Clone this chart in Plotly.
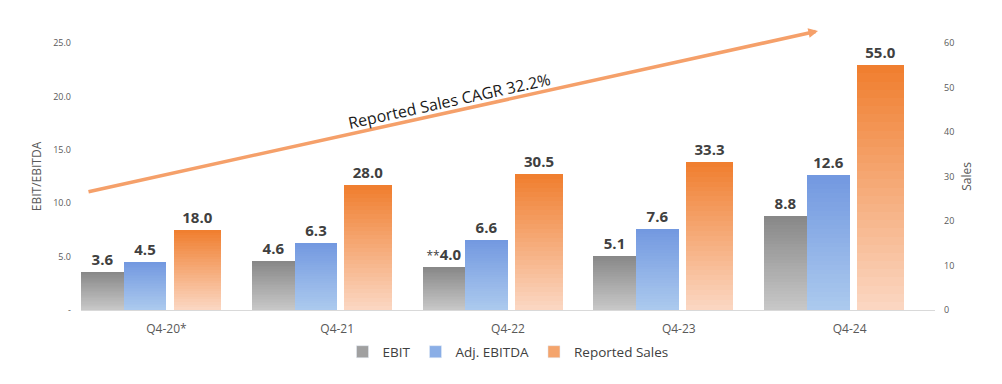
import plotly.graph_objects as go

categories = ["Q4-20*", "Q4-21", "Q4-22", "Q4-23", "Q4-24"]
ebit = [3.6, 4.6, 4.0, 5.1, 8.8]
adj_ebitda = [4.5, 6.3, 6.6, 7.6, 12.6]
sales = [18.0, 28.0, 30.5, 33.3, 55.0]
ebit_labels = ["3.6", "4.6", "<span style='font-size:12px;font-weight:normal'>**</span>4.0", "5.1", "8.8"]
left_ticks = [0, 5, 10, 15, 20, 25]
left_ticktext = ["-", "5.0", "10.0", "15.0", "20.0", "25.0"]
right_ticks = [0, 10, 20, 30, 40, 50, 60]

N = 30
FONT = "Open Sans"

# page body has an 8px margin -> shift plot area accordingly
L, T, PW, PH = 73, 35, 854, 267


def lerp(c1, c2, t):
    return "rgb(%d,%d,%d)" % tuple(round(a + (b - a) * t) for a, b in zip(c1, c2))


series = [
    dict(name="EBIT", vals=ebit, text=ebit_labels, yaxis="y", offset=-0.5, width=0.25,
         top=(135, 135, 135), bot=(200, 200, 200), legend_color="#a0a0a0"),
    dict(name="Adj. EBITDA", vals=adj_ebitda, text=[f"{v:.1f}" for v in adj_ebitda], yaxis="y",
         offset=-0.25, width=0.25, top=(114, 152, 224), bot=(172, 202, 238), legend_color="#8aaee6"),
    dict(name="Reported Sales", vals=sales, text=[f"{v:.1f}" for v in sales], yaxis="y2",
         offset=0.042, width=0.278, top=(240, 125, 45), bot=(251, 216, 196), legend_color="#f4a46c"),
]

fig = go.Figure()
for s in series:
    for k in range(N):
        frac = 1 - k / N
        t = (k + 0.5) / N
        fig.add_trace(go.Bar(
            x=categories,
            y=[v * frac for v in s["vals"]],
            yaxis=s["yaxis"],
            offset=s["offset"], width=s["width"],
            marker=dict(color=lerp(s["top"], s["bot"], t), line=dict(width=0)),
            name=s["name"], legendgroup=s["name"], showlegend=False,
            text=s["text"] if k == 0 else None,
            textposition="outside" if k == 0 else "none",
            textfont=dict(family=FONT, size=15, color="#404040", weight="bold"),
            cliponaxis=False,
            hoverinfo="skip" if k else None,
        ))
    # legend entry
    fig.add_trace(go.Bar(
        x=[None], y=[None], yaxis=s["yaxis"], name=s["name"], legendgroup=s["name"],
        marker=dict(color=s["legend_color"]), showlegend=True,
    ))

# reference-pixel helpers (positions in the final screenshot)
def px(x):
    return (x - 8 - L) / PW


def py(y):
    return (T + PH - (y - 8)) / PH


fig.add_annotation(
    x=px(818), y=py(31), xref="paper", yref="paper",
    ax=-731, ay=161, axref="pixel", ayref="pixel",
    text="", showarrow=True, arrowhead=2, arrowsize=0.55, arrowwidth=3.5,
    arrowcolor="#F5A06A", standoff=0,
)
fig.add_annotation(
    x=px(449), y=py(101), xref="paper", yref="paper",
    xanchor="center", yanchor="middle",
    text="Reported Sales CAGR 32.2%", showarrow=False, textangle=-12.4,
    font=dict(family=FONT, size=16, color="#1a1a1a"),
)

fig.update_layout(
    width=1002, height=384,
    margin=dict(l=L, r=1002 - L - PW, t=T, b=384 - T - PH, autoexpand=False),
    paper_bgcolor="white", plot_bgcolor="white",
    barmode="overlay",
    font=dict(family=FONT, color="#595959"),
    xaxis=dict(
        type="category", showgrid=False, showline=True, linecolor="#d9d9d9", linewidth=1,
        ticks="", tickfont=dict(size=12, color="#595959"), ticklabelstandoff=8,
        range=[-0.5, 4.5],
    ),
    yaxis=dict(
        range=[0, 25], tickvals=left_ticks, ticktext=left_ticktext, showgrid=False,
        zeroline=False, showline=False, tickfont=dict(size=9, color="#595959"),
        ticklabelstandoff=9,
        title=dict(text="EBIT/EBITDA", font=dict(size=12, color="#595959"), standoff=8),
    ),
    yaxis2=dict(
        range=[0, 60], tickvals=right_ticks, overlaying="y", side="right", showgrid=False,
        zeroline=False, showline=False, tickfont=dict(size=9, color="#595959"),
        ticklabelstandoff=8,
        title=dict(text="Sales", font=dict(size=12, color="#595959"), standoff=9),
    ),
    legend=dict(
        orientation="h", x=0.5, xanchor="center", y=-0.157, yanchor="middle",
        font=dict(size=13.5, color="#404040"), traceorder="normal",
        itemwidth=30, bgcolor="rgba(0,0,0,0)",
    ),
    bargap=0,
    showlegend=True,
)

fig.write_html("out.html")
